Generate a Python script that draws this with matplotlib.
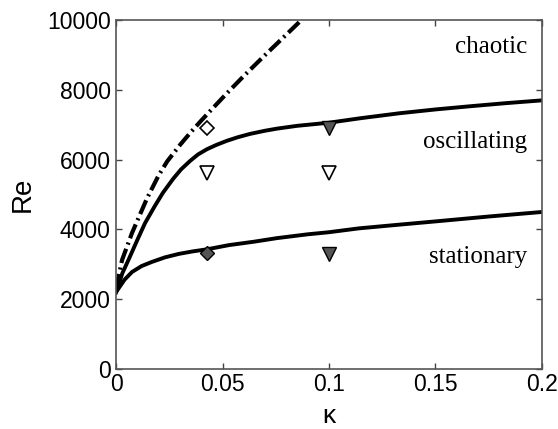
import numpy as np
import matplotlib
matplotlib.use("Agg")
import matplotlib.pyplot as plt

# --- curves (kappa, Re) -----------------------------------------------------
k_dashdot = [0, 0.0028, 0.0075, 0.0146, 0.02, 0.024, 0.03, 0.035, 0.04, 0.0455,
             0.052, 0.06, 0.07, 0.078, 0.087]
re_dashdot = [2300, 3120, 3900, 4900, 5550, 5950, 6420, 6780, 7120, 7480,
              7900, 8400, 9000, 9470, 10000]

k_upper = [0, 0.003, 0.006, 0.01, 0.0136, 0.018, 0.022, 0.0268, 0.0305, 0.0347,
           0.0385, 0.0427, 0.047, 0.052, 0.057, 0.063, 0.07, 0.0756, 0.085, 0.1,
           0.115, 0.133, 0.15, 0.166, 0.183, 0.2]
re_upper = [2200, 2750, 3150, 3700, 4180, 4650, 5050, 5450, 5720, 5960,
            6150, 6300, 6420, 6540, 6640, 6740, 6830, 6890, 6970, 7060,
            7190, 7330, 7440, 7530, 7620, 7700]

k_lower = [0, 0.0013, 0.004, 0.0075, 0.012, 0.0169, 0.023, 0.0296, 0.036, 0.0427,
           0.053, 0.065, 0.0755, 0.09, 0.1, 0.114, 0.13, 0.15, 0.175, 0.2]
re_lower = [2200, 2320, 2560, 2780, 2950, 3070, 3200, 3300, 3370, 3430,
            3550, 3650, 3750, 3860, 3920, 4030, 4120, 4230, 4370, 4500]

# --- experimental points ----------------------------------------------------
k_open_diamond, re_open_diamond = [0.0427], [6900]
k_open_tri, re_open_tri = [0.0427, 0.1], [5620, 5620]
k_fill_tri, re_fill_tri = [0.1, 0.1], [6900, 3290]
k_fill_diamond, re_fill_diamond = [0.0427], [3330]

regions = ["chaotic", "oscillating", "stationary"]
region_re = [9230, 6500, 3210]

xticks = [0, 0.05, 0.1, 0.15, 0.2]
xticklabels = ["0", "0.05", "0.1", "0.15", "0.2"]
yticks = [0, 2000, 4000, 6000, 8000, 10000]

plt.rcParams["font.family"] = ["Liberation Sans", "DejaVu Sans"]

fig = plt.figure(figsize=(5.58, 4.29), dpi=100)
ax = fig.add_axes([0.208, 0.14, 0.763, 0.813])

ax.plot(k_dashdot, re_dashdot, color="k", lw=3.0, ls=(0, (3.6, 1.1, 0.5, 1.1)),
        dash_capstyle="butt", solid_joinstyle="round")
ax.plot(k_upper, re_upper, color="k", lw=2.8, solid_joinstyle="round")
ax.plot(k_lower, re_lower, color="k", lw=2.8, solid_joinstyle="round")

ax.plot(k_open_diamond, re_open_diamond, "D", ms=7, mfc="white", mec="k", mew=1.2)
ax.plot(k_open_tri, re_open_tri, "v", ms=10, mfc="white", mec="k", mew=1.2)
ax.plot(k_fill_tri, re_fill_tri, "v", ms=10, mfc="#555555", mec="k", mew=1.0)
ax.plot(k_fill_diamond, re_fill_diamond, "D", ms=7, mfc="#555555", mec="k", mew=1.0)

for lab, y in zip(regions, region_re):
    ax.text(0.193, y, lab, ha="right", va="center", fontsize=18,
            family=["Liberation Serif", "DejaVu Serif"])

ax.set_xlim(0, 0.2)
ax.set_ylim(0, 10000)
ax.set_xticks(xticks)
ax.set_xticklabels(xticklabels)
ax.set_yticks(yticks)
ax.tick_params(direction="in", length=4, width=1.0, color="#444444",
               labelsize=16.5, top=True, right=True, pad=3)
ax.tick_params(axis="y", pad=4)
for s in ax.spines.values():
    s.set_color("#555555")
    s.set_linewidth(1.2)

ax.set_xlabel("κ", fontsize=19, labelpad=6)
ax.set_ylabel("Re", fontsize=20, labelpad=8)

fig.savefig("out.png", dpi=100)
